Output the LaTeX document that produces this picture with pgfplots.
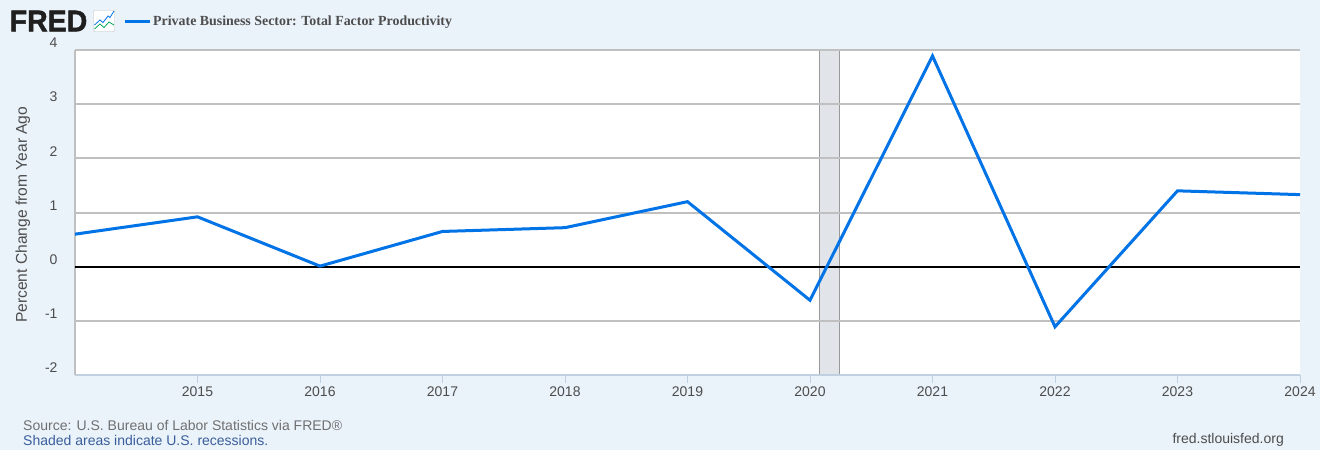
\documentclass[border=0pt]{standalone}
\usepackage{fontspec}
\setmainfont{Liberation Sans}
\newfontfamily\serifb{Liberation Serif}
\newfontfamily\fredf[FakeBold=1.6]{Liberation Sans Bold}
\usepackage{pgfplots}
\pgfplotsset{compat=1.18}
\definecolor{bg}{HTML}{EAF2FA}
\definecolor{gridc}{HTML}{C0C0C0}
\definecolor{tickc}{HTML}{C0D0E0}
\definecolor{txt}{HTML}{4D4D4D}
\definecolor{srcc}{HTML}{707070}
\definecolor{linkc}{HTML}{3A5E9C}
\definecolor{serc}{HTML}{0073E6}
\definecolor{recf}{HTML}{E1E5EA}
\definecolor{recd}{HTML}{999999}
\begin{document}
\begin{tikzpicture}[x=1pt,y=1pt]
\fill[bg] (0,0) rectangle (1320,450);
\begin{axis}[
  at={(75pt,75pt)}, anchor=south west,
  width=1225pt, height=325pt, scale only axis,
  xmin=2014, xmax=2024, ymin=-2, ymax=4,
  xtick={2015,2016,2017,2018,2019,2020,2021,2022,2023,2024},
  xticklabels={2015,2016,2017,2018,2019,2020,2021,2022,2023,2024},
  ytick={-2,-1,0,1,2,3,4},
  yticklabels={-2,-1,0,1,2,3,4},
  x tick label style={font=\fontsize{14}{16}\selectfont,text=txt,yshift=0pt},
  y tick label style={font=\fontsize{14}{16}\selectfont,text=txt,yshift=7pt,xshift=-6pt},
  axis line style={draw=none},
  tick align=outside, tick pos=left, ytick style={draw=none},
  xtick style={draw=tickc,line width=1pt},
  major tick length=8pt,
  axis background/.style={fill=white},
  clip=false,
  ylabel={Percent Change from Year Ago},
  every axis y label/.style={at={(axis description cs:-0.0425,0.493)},rotate=90,anchor=center,font=\fontsize{15.6}{18}\selectfont,text=txt},
  legend style={at={(0,1)},anchor=south west,xshift=48pt,yshift=21pt,draw=none,fill=none,
    font=\fontsize{13.9}{16}\selectfont\serifb\bfseries,text=txt,inner sep=0pt,cells={anchor=west}},
  legend image code/.code={\draw[serc,line width=3pt] (0,0) -- (25pt,0);},
]
\addplot[forget plot,draw=recd,line width=1pt,fill=recf] coordinates {(2020.08,-2)(2020.08,4)(2020.24,4)(2020.24,-2)} -- cycle;
\addplot[forget plot,gridc,line width=2pt] coordinates {(2014,4)(2024,4)};
\addplot[forget plot,gridc,line width=2pt] coordinates {(2014,3)(2024,3)};
\addplot[forget plot,gridc,line width=2pt] coordinates {(2014,2)(2024,2)};
\addplot[forget plot,gridc,line width=2pt] coordinates {(2014,1)(2024,1)};
\addplot[forget plot,gridc,line width=2pt] coordinates {(2014,-1)(2024,-1)};
\addplot[forget plot,tickc,line width=1.6pt] coordinates {(2014,-2)(2024,-2)};
\addplot[forget plot,gridc,line width=1.2pt] coordinates {(2014,-2)(2014,4)};
\addplot[forget plot,black,line width=2pt] coordinates {(2014,0)(2024,0)};
\addplot[serc,line width=3pt,line join=miter,no markers] coordinates {
(2014,0.60)(2015,0.92)(2016,0.01)(2017,0.65)(2018,0.72)(2019,1.20)(2020,-0.62)(2021,3.89)(2022,-1.11)(2023,1.40)(2024,1.33)};
\addlegendentry{Private Business Sector: Total Factor Productivity}
\end{axis}
% header logo
\node[anchor=west,inner sep=0pt,text=black!88,xscale=0.95] at (9.5,429) {\fontsize{30}{32}\fredf FRED};
\draw[gridc,fill=white,rounded corners=1pt] (93.5,418.5) rectangle (114.5,439.5);
\draw[serc,line width=0.8pt] (94.5,425) -- (100,430) -- (103,427.5) -- (108,434) -- (110,432.5) -- (114,439);
\draw[teal!70!green,line width=0.8pt] (94.5,421) -- (100,426) -- (104,422.5) -- (109,428) -- (114,425);
% footer
\node[anchor=west,inner sep=0pt,text=srcc] at (23,25) {\fontsize{14}{16}\selectfont Source: U.S. Bureau of Labor Statistics via FRED®};
\node[anchor=west,inner sep=0pt,text=linkc] at (23,10) {\fontsize{14}{16}\selectfont Shaded areas indicate U.S. recessions.};
\node[anchor=east,inner sep=0pt,text=txt] at (1284,10) {\fontsize{14}{16}\selectfont fred.stlouisfed.org};
\end{tikzpicture}
\end{document}
